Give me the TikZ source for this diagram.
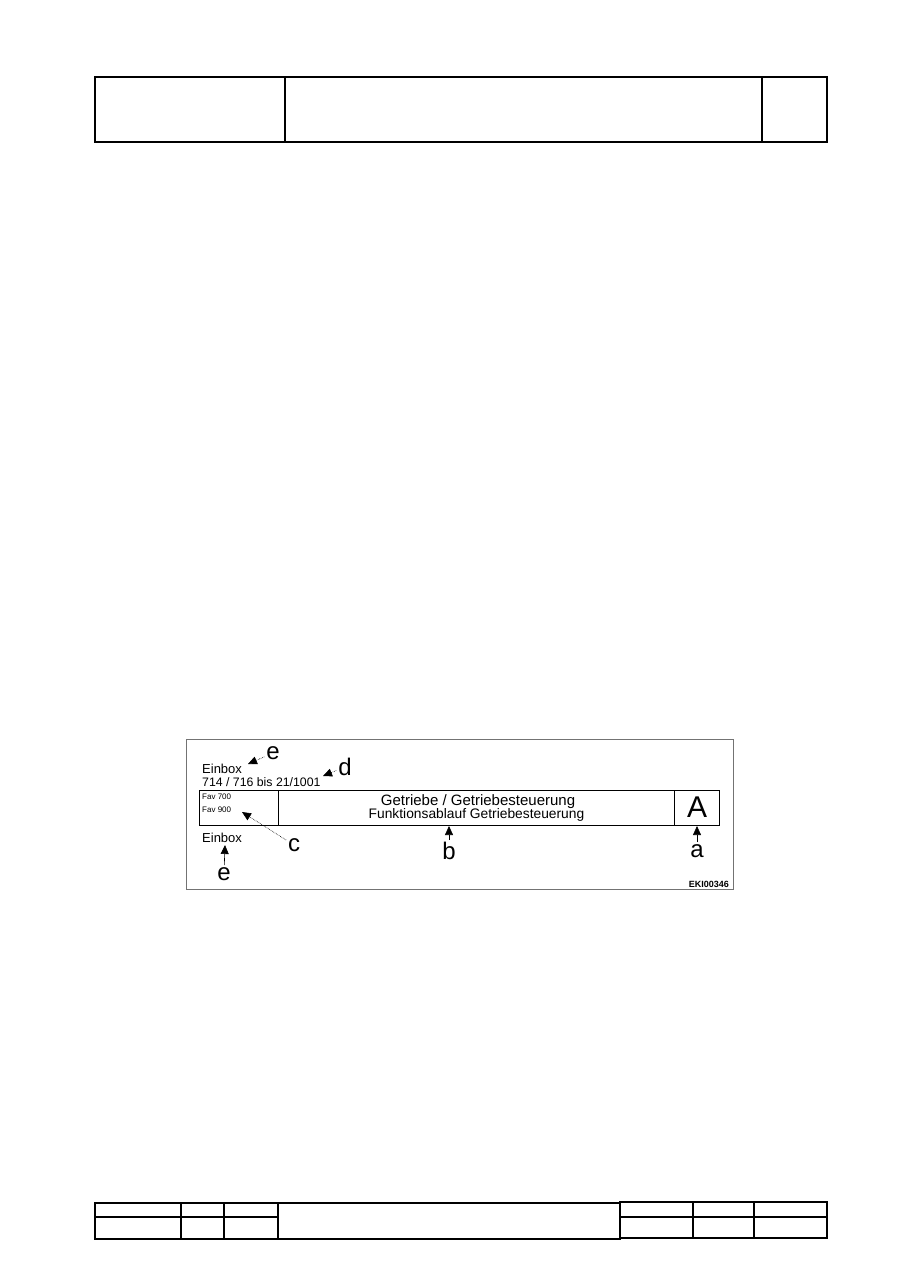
\documentclass[tikz,border=0pt]{standalone}
\usepackage{fontspec}
\setmainfont{Liberation Sans}
\usetikzlibrary{arrows.meta}

\begin{document}
\begin{tikzpicture}[x=1pt, y=-1pt,
  frame/.style={line width=1.5pt},
  txt/.style={inner sep=0pt, anchor=base west, font=\fontsize{13}{13}\selectfont},
  small/.style={inner sep=0pt, anchor=base west, font=\fontsize{8}{8}\selectfont},
  letter/.style={inner sep=0pt, font=\fontsize{24}{24}\selectfont},
  pointer/.style={-{Triangle[length=9pt, width=8pt]}, line width=.6pt, shorten <=2pt},
  hint/.style={pointer, densely dotted}]
\useasboundingbox (0,0) rectangle (909,1286);

% header
\draw[frame] (95,77) rectangle (827,142);
\draw[frame] (285,77) -- (285,142) (762,77) -- (762,142);

% figure
\draw[black!55, line width=.8pt] (186,739) rectangle (733,889);
\draw[line width=1pt] (199,790) rectangle (719,825);
\draw[line width=1pt] (278.5,790) -- (278.5,825) (674.5,790) -- (674.5,825);

\node[txt] (einboxTop) at (202,773) {Einbox};
\node[txt, font=\fontsize{12.3}{12.3}\selectfont] (edition) at (202,786) {714 / 716 bis 21/1001};
\node[small] (fav7) at (202,799) {Fav 700};
\node[small] (fav9) at (202,812) {Fav 900};
\node[inner sep=0pt, anchor=base, font=\fontsize{15}{15}\selectfont] (title) at (478,805) {Getriebe / Getriebesteuerung};
\node[inner sep=0pt, anchor=base, font=\fontsize{13.8}{13.8}\selectfont] (subtitle) at (476.5,818) {Funktionsablauf Getriebesteuerung};
\node[inner sep=0pt, font=\fontsize{30}{30}\selectfont] (version) at (697,807) {A};
\node[txt] (einboxBot) at (202,842) {Einbox};
\node[inner sep=0pt, anchor=base east, font=\bfseries\fontsize{9}{9}\selectfont] (code) at (729,887) {EKI00346};

\node[letter] (eTop) at (273,753) {e};
\node[letter] (d) at (345,767) {d};
\node[letter] (c) at (294,845) {c};
\node[letter] (b) at (449,851) {b};
\node[letter] (a) at (697,851) {a};
\node[letter] (eBot) at (224,874) {e};

\coordinate (eTopTip) at (248,764);
\coordinate (dTip) at (323,776);
\coordinate (cTip) at (242,812);
\coordinate (bTip) at (449,826);
\coordinate (aTip) at (697,826);
\coordinate (eBotTip) at (225,845);

\draw[hint] (eTop) -- (eTopTip);
\draw[hint] (d) -- (dTip);
\draw[hint] (c) -- (cTip);
\draw[pointer] (b) -- (bTip);
\draw[pointer] (a) -- (aTip);
\draw[pointer] (eBot) -- (eBotTip);

% footer
\draw[frame] (95,1203) rectangle (620,1239);
\draw[frame] (95,1217) -- (278,1217);
\draw[frame] (181,1203) -- (181,1239) (224,1203) -- (224,1239) (278,1203) -- (278,1239);
\draw[frame] (620,1202) rectangle (827,1238);
\draw[frame] (620,1217) -- (827,1217);
\draw[frame] (693,1202) -- (693,1238) (754,1202) -- (754,1238);
\end{tikzpicture}
\end{document}
